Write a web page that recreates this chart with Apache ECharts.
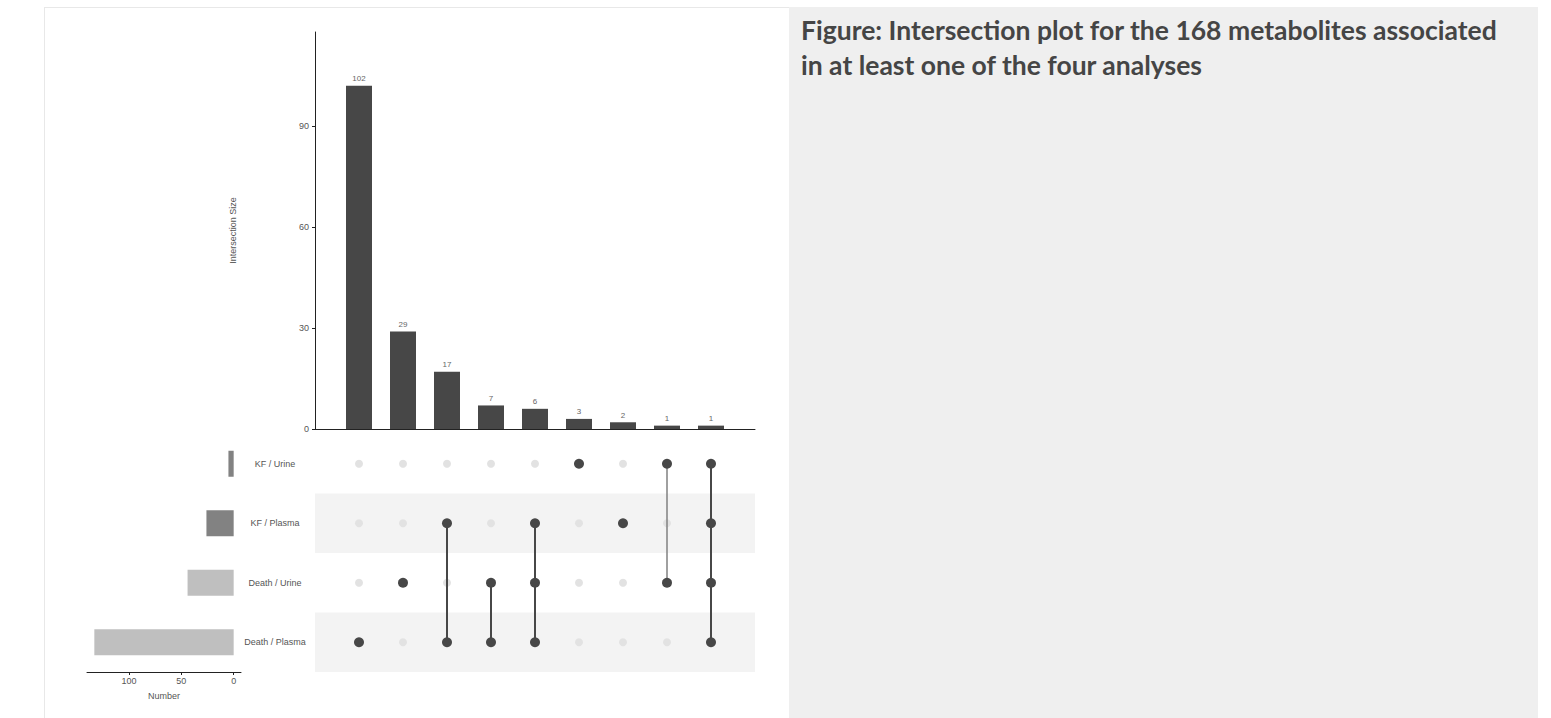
<!DOCTYPE html>
<html>
<head>
<meta charset="utf-8">
<script src="https://cdn.jsdelivr.net/npm/echarts@6/dist/echarts.min.js"></script>
<style>
  html, body { margin: 0; padding: 0; background: #fff; }
  #chart { width: 1551px; height: 718px; }
</style>
</head>
<body>
<div id="chart"></div>
<script>
// sets, top to bottom in the matrix
const sets = ["KF / Urine", "KF / Plasma", "Death / Urine", "Death / Plasma"];
const setSizes = [5, 26, 44, 133];
const setColors = ["#828282", "#828282", "#bfbfbf", "#bfbfbf"];
const setTicks = [0, 50, 100];

// intersections, left to right
const intersectionSizes = [102, 29, 17, 7, 6, 3, 2, 1, 1];
// row indexes (into sets) that belong to each intersection
const memberships = [[3], [2], [1, 3], [2, 3], [1, 2, 3], [0], [1], [0, 2], [0, 1, 2, 3]];
const sizeTicks = [0, 30, 60, 90];

const caption = "Figure: Intersection plot for the 168 metabolites associated\nin at least one of the four analyses";

const dark = "#474747";
const axisText = { color: "#555", fontSize: 9, fontFamily: "Liberation Sans" };

// matrix dots
const filledDots = [];
const emptyDots = [];
memberships.forEach((m, i) => {
  sets.forEach((s, r) => {
    (m.indexOf(r) >= 0 ? filledDots : emptyDots).push([i + 1, r]);
  });
});

// connecting lines
const linkSeries = memberships
  .map((m, i) => ({ m, i }))
  .filter(d => d.m.length > 1)
  .map(d => ({
    type: "line",
    xAxisIndex: 1,
    yAxisIndex: 1,
    symbol: "none",
    silent: true,
    z: 3,
    lineStyle: { color: d.i === 7 ? "#808080" : dark, width: d.i === 7 ? 1.5 : 2 },
    data: [[d.i + 1, Math.min(...d.m)], [d.i + 1, Math.max(...d.m)]]
  }));

const chart = echarts.init(document.getElementById("chart"), null, { renderer: "svg" });

chart.setOption({
  animation: false,
  backgroundColor: "#fff",
  title: {
    text: caption,
    left: 796,
    top: 7,
    textStyle: {
      color: "#454545",
      fontSize: 26.5,
      fontWeight: "bold",
      fontFamily: "Lato",
      lineHeight: 35
    }
  },
  graphic: [
    { type: "rect", z: -10, shape: { x: 789, y: 7, width: 749, height: 711 }, style: { fill: "#efefef" } },
    { type: "line", z: -10, shape: { x1: 44, y1: 7.5, x2: 789, y2: 7.5 }, style: { stroke: "#e8e8e8", lineWidth: 1 } },
    { type: "line", z: -10, shape: { x1: 44.5, y1: 7, x2: 44.5, y2: 718 }, style: { stroke: "#e8e8e8", lineWidth: 1 } }
  ],
  grid: [
    { left: 315, top: 32, width: 440, height: 397 },
    { left: 315, top: 434, width: 440, height: 238 },
    { left: 87, top: 434, width: 154, height: 238 }
  ],
  xAxis: [
    {
      gridIndex: 0, type: "value", min: 0, max: 10,
      axisLine: { show: true, onZero: false, lineStyle: { color: "#222", width: 1 } },
      axisTick: { show: false }, axisLabel: { show: false }, splitLine: { show: false }
    },
    {
      gridIndex: 1, type: "value", min: 0, max: 10, show: false
    },
    {
      gridIndex: 2, type: "value", min: -7, max: 140, inverse: true,
      name: "Number", nameLocation: "middle", nameGap: 19,
      nameTextStyle: axisText,
      axisLine: { show: true, onZero: false, lineStyle: { color: "#222", width: 1 } },
      axisTick: { show: true, length: 3, customValues: setTicks, lineStyle: { color: "#222" } },
      axisLabel: Object.assign({ margin: 4, customValues: setTicks }, axisText),
      splitLine: { show: false }
    }
  ],
  yAxis: [
    {
      gridIndex: 0, type: "value", min: 0, max: 118,
      name: "Intersection Size", nameLocation: "middle", nameGap: 78,
      nameTextStyle: axisText,
      axisLine: { show: true, lineStyle: { color: "#222", width: 1 } },
      axisTick: { show: true, length: 3, customValues: sizeTicks, lineStyle: { color: "#222" } },
      axisLabel: Object.assign({ margin: 6, customValues: sizeTicks }, axisText),
      splitLine: { show: false }
    },
    {
      gridIndex: 1, type: "category", data: sets, inverse: true,
      axisLine: { show: false }, axisTick: { show: false },
      axisLabel: Object.assign({ align: "center", margin: 40 }, axisText),
      splitArea: { show: true, areaStyle: { color: ["rgba(255,255,255,0)", "#f3f3f3"] } },
      splitLine: { show: false }
    },
    {
      gridIndex: 2, type: "category", data: sets, inverse: true, show: false
    }
  ],
  series: [
    {
      type: "bar",
      xAxisIndex: 0, yAxisIndex: 0,
      barWidth: 26,
      itemStyle: { color: dark },
      label: { show: true, position: "top", distance: 3, color: "#666", fontSize: 8, fontFamily: "Liberation Sans" },
      data: intersectionSizes.map((v, i) => [i + 1, v])
    },
    {
      type: "scatter",
      xAxisIndex: 1, yAxisIndex: 1,
      symbolSize: 8,
      z: 2,
      itemStyle: { color: "#e2e2e2", opacity: 1 },
      data: emptyDots
    },
    ...linkSeries,
    {
      type: "scatter",
      xAxisIndex: 1, yAxisIndex: 1,
      symbolSize: 10,
      z: 4,
      itemStyle: { color: dark, opacity: 1 },
      data: filledDots
    },
    {
      type: "bar",
      xAxisIndex: 2, yAxisIndex: 2,
      barWidth: 26,
      data: setSizes.map((v, i) => ({ value: v, itemStyle: { color: setColors[i] } }))
    }
  ]
});
</script>
</body>
</html>
